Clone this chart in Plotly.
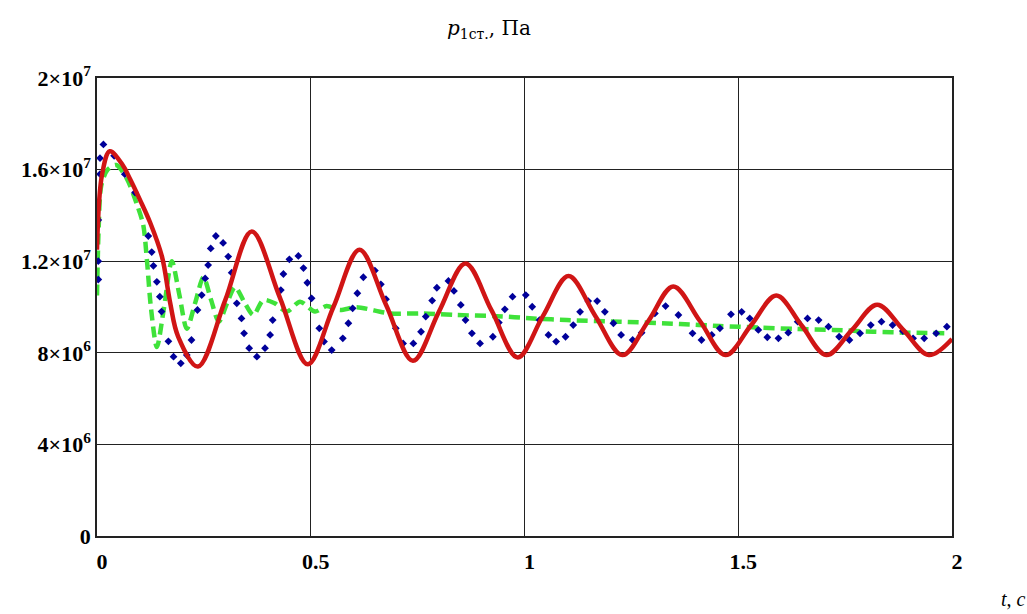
import plotly.graph_objects as go

# Red solid curve (t, value in 1e6 Pa)
red_t = [0, 0.012, 0.03, 0.06, 0.077, 0.1, 0.124, 0.152, 0.171, 0.19, 0.236, 0.30, 0.362, 0.428, 0.493,
         0.553, 0.614, 0.676, 0.739, 0.80, 0.862, 0.923, 0.984, 1.043, 1.103, 1.166, 1.229, 1.29,
         1.348, 1.41, 1.47, 1.53, 1.589, 1.648, 1.706, 1.766, 1.825, 1.886, 1.946, 2.0]
red_v = [12.5, 15.8, 16.8, 16.2, 15.6, 14.7, 13.7, 12.2, 10.2, 8.7, 7.4, 10.3, 13.3, 10.4, 7.5,
         10.0, 12.5, 10.1, 7.65, 9.8, 11.9, 9.85, 7.8, 9.6, 11.35, 9.6, 7.9, 9.4,
         10.9, 9.4, 7.9, 9.2, 10.5, 9.2, 7.9, 9.0, 10.1, 9.0, 7.9, 8.6]

# Blue dotted curve (dots)
blue_t = [0.003, 0.003, 0.003, 0.007, 0.007, 0.015, 0.04, 0.065, 0.089, 0.12, 0.128, 0.132, 0.14, 0.147,
          0.151, 0.167, 0.179, 0.196, 0.21, 0.221, 0.235, 0.245, 0.253, 0.26, 0.266, 0.278, 0.295,
          0.307, 0.315, 0.327, 0.338, 0.344, 0.356, 0.374, 0.393, 0.405, 0.411, 0.43, 0.436, 0.45,
          0.471, 0.483, 0.492, 0.502, 0.52, 0.531, 0.549, 0.575, 0.588, 0.598, 0.609, 0.623, 0.65,
          0.664, 0.676, 0.699, 0.716, 0.74, 0.758, 0.769, 0.784, 0.795, 0.822, 0.835, 0.851, 0.862,
          0.877, 0.896, 0.926, 0.94, 0.954, 0.972, 1.003, 1.018, 1.035, 1.056, 1.074, 1.096, 1.114,
          1.13, 1.149, 1.17, 1.188, 1.208, 1.226, 1.253, 1.274, 1.305, 1.33, 1.36, 1.393, 1.414,
          1.438, 1.457, 1.483, 1.508, 1.527, 1.547, 1.568, 1.594, 1.617, 1.639, 1.662, 1.688, 1.711,
          1.736, 1.76, 1.785, 1.81, 1.835, 1.861, 1.885, 1.909, 1.935, 1.963, 1.988]
blue_v = [11.2, 12.0, 13.8, 15.8, 16.5, 17.1, 16.6, 15.8, 15.0, 13.1, 12.4, 11.8, 11.1, 10.45,
          9.8, 8.5, 7.83, 7.54, 7.9, 8.56, 9.87, 10.52, 11.25, 11.83, 12.56, 13.1, 12.8,
          12.2, 11.5, 10.16, 9.5, 8.85, 8.2, 7.83, 8.2, 8.78, 9.43, 10.74, 11.44, 12.08,
          12.23, 11.7, 11.06, 10.38, 9.07, 8.49, 8.12, 8.63, 9.29, 9.94, 10.6, 11.3, 11.59,
          10.99, 10.34, 9.07, 8.41, 8.41, 8.92, 9.58, 10.28, 10.84, 11.14, 10.7, 10.09, 9.43,
          8.85, 8.41, 8.7, 9.32, 9.9, 10.45, 10.52, 10.01, 9.43, 8.78, 8.49, 8.7, 9.21,
          9.79, 10.26, 10.26, 9.79, 9.29, 8.78, 8.56, 8.88, 9.72, 10.04, 9.65, 8.85, 8.56,
          8.78, 9.07, 9.68, 9.79, 9.5, 9.0, 8.68, 8.63, 8.88, 9.36, 9.5, 9.43, 9.14,
          8.7, 8.56, 8.85, 9.21, 9.36, 9.21, 8.95, 8.63, 8.63, 8.85, 9.14]

# Green dashed curve
green_t = [0, 0.004, 0.01, 0.025, 0.045, 0.07, 0.093, 0.108, 0.117, 0.126, 0.14, 0.157, 0.175, 0.193,
           0.21, 0.23, 0.249, 0.267, 0.285, 0.305, 0.323, 0.345, 0.366, 0.389, 0.416, 0.444, 0.475,
           0.51, 0.537, 0.568, 0.607, 0.685, 0.763, 0.841, 0.935, 1.02, 1.099, 1.223, 1.364, 1.457,
           1.551, 1.637, 1.722, 1.816, 1.902, 1.995]
green_v = [10.5, 13.5, 15.3, 16.0, 16.2, 15.6, 14.5, 13.6, 12.0, 10.0, 8.25, 10.0, 12.0, 10.5,
           9.05, 10.2, 11.3, 10.3, 9.36, 10.2, 10.87, 10.2, 9.65, 10.3, 10.16, 9.8, 10.23,
           9.8, 10.04, 9.87, 9.99, 9.72, 9.72, 9.65, 9.6, 9.5, 9.43, 9.36, 9.26, 9.17,
           9.1, 9.04, 9.0, 8.92, 8.88, 8.85]

x_ticks = [0, 0.5, 1, 1.5, 2]
x_ticktext = ["0", "0.5", "1", "1.5", "2"]
y_ticks = [0, 4e6, 8e6, 1.2e7, 1.6e7, 2e7]
y_ticktext = ["0", "4×10<sup>6</sup>", "8×10<sup>6</sup>", "1.2×10<sup>7</sup>",
              "1.6×10<sup>7</sup>", "2×10<sup>7</sup>"]

scale = 1e6
fig = go.Figure()
fig.add_trace(go.Scatter(x=green_t, y=[v * scale for v in green_v], mode="lines",
                         line=dict(color="#3fe23a", width=4.5, dash="11px,6px", shape="spline", smoothing=0.8),
                         showlegend=False, hoverinfo="skip"))
fig.add_trace(go.Scatter(x=blue_t, y=[v * scale for v in blue_v], mode="markers",
                         marker=dict(color="#00009a", size=6, symbol="diamond"),
                         showlegend=False, hoverinfo="skip"))
fig.add_trace(go.Scatter(x=red_t, y=[v * scale for v in red_v], mode="lines",
                         line=dict(color="#d01515", width=4.5, shape="spline", smoothing=1.0),
                         showlegend=False, hoverinfo="skip"))

tickfont = dict(family="Liberation Serif", size=22, color="black", weight="bold")
fig.update_layout(
    width=1027, height=614,
    margin=dict(l=97, r=75, t=78, b=78),
    paper_bgcolor="white", plot_bgcolor="white",
    xaxis=dict(range=[0, 2], tickvals=x_ticks, ticktext=x_ticktext, showgrid=True,
               gridcolor="#222222", gridwidth=1, showline=True, linecolor="#222222", linewidth=1.5,
               mirror=True, zeroline=False, ticks="", tickfont=tickfont, ticklabelstandoff=5,
               ticklabelshift=5),
    yaxis=dict(range=[0, 2e7], tickvals=y_ticks, ticktext=y_ticktext, showgrid=True,
               gridcolor="#222222", gridwidth=1, showline=True, linecolor="#222222", linewidth=1.5,
               mirror=True, zeroline=False, ticks="", tickfont=tickfont, ticklabelstandoff=0),
    annotations=[
        dict(text="<i>p</i><sub>1ст.</sub>, Па", xref="paper", yref="paper", x=(489 - 97) / 855,
             y=1 + (78 - 29) / 458,
             showarrow=False, font=dict(family="DejaVu Serif", size=20, color="black"),
             xanchor="center", yanchor="middle"),
        dict(text="<i>t</i>, <i>c</i>", xref="paper", yref="paper", x=(1013 - 97) / 855,
             y=-(612 - 536) / 458,
             showarrow=False, font=dict(family="Liberation Serif", size=20, color="black"),
             xanchor="center", yanchor="bottom"),
    ],
)
fig.write_html("out.html", config={"displayModeBar": False},
               post_script="document.body.style.margin='0';document.body.style.overflow='hidden';")
